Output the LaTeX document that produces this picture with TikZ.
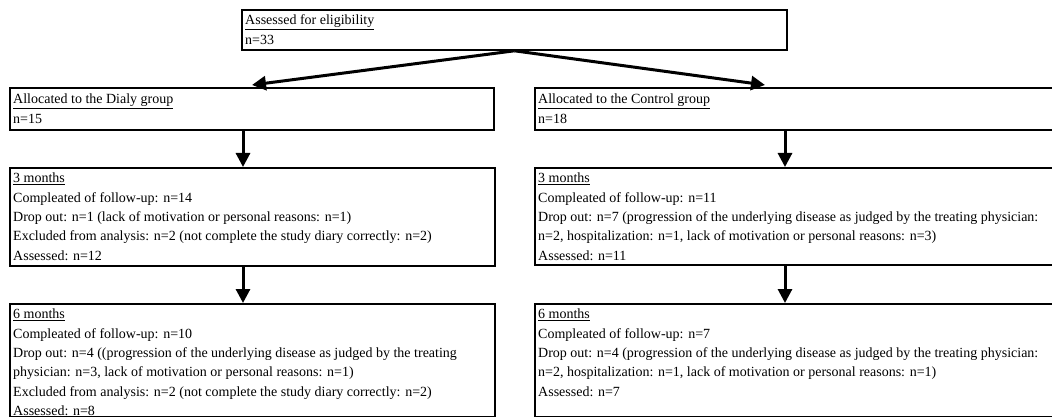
\documentclass[tikz,border=0pt]{standalone}
\usepackage{fontspec}
\setmainfont{Liberation Serif}
\usetikzlibrary{arrows.meta}
\begin{document}
\begin{tikzpicture}[x=1pt,y=-1pt,
  box/.style={draw, line width=1.8pt, rectangle, inner sep=0pt, anchor=north west},
  txt/.style={anchor=north west, inner sep=0pt, align=left, font=\fontsize{14}{19.4}\selectfont},
  arr/.style={line width=3pt, -{Triangle[length=14pt,width=14pt]}}]
\useasboundingbox (0,0) rectangle (1052,417);
\clip (0,0) rectangle (1052,417);
% boxes
\node[box, minimum width=545pt, minimum height=40pt] (top) at (241,9) {};
\node[box, minimum width=484pt, minimum height=42pt] (allocL) at (9,87) {};
\node[box, minimum width=540pt, minimum height=42pt] (allocR) at (534,87) {};
\node[box, minimum width=485pt, minimum height=98pt] (m3L) at (9,167) {};
\node[box, minimum width=540pt, minimum height=97pt] (m3R) at (534,167) {};
\node[box, minimum width=485pt, minimum height=113pt] (m6L) at (9,303) {};
\node[box, minimum width=540pt, minimum height=113pt] (m6R) at (534,303) {};
% texts
\node[txt] (topT) at ([shift={(4,2)}]top.north west) {\strut\underline{Assessed for eligibility}\\n=33};
\node[txt] (allocLT) at ([shift={(4,3)}]allocL.north west) {\strut\underline{Allocated to the Dialy group}\\n=15};
\node[txt] (allocRT) at ([shift={(4,3)}]allocR.north west) {\strut\underline{Allocated to the Control group}\\n=18};
\node[txt] (m3LT) at ([shift={(4,2)}]m3L.north west) {\strut\underline{3 months}\\
Compleated of follow-up: n=14\\
Drop out: n=1 (lack of motivation or personal reasons: n=1)\\
Excluded from analysis: n=2 (not complete the study diary correctly: n=2)\\
Assessed: n=12};
\node[txt] (m3RT) at ([shift={(4,2)}]m3R.north west) {\strut\underline{3 months}\\
Compleated of follow-up: n=11\\
Drop out: n=7 (progression of the underlying disease as judged by the treating physician:\\
n=2, hospitalization: n=1, lack of motivation or personal reasons: n=3)\\
Assessed: n=11};
\node[txt] (m6LT) at ([shift={(4,2)}]m6L.north west) {\strut\underline{6 months}\\
Compleated of follow-up: n=10\\
Drop out: n=4 ((progression of the underlying disease as judged by the treating\\
physician: n=3, lack of motivation or personal reasons: n=1)\\
Excluded from analysis: n=2 (not complete the study diary correctly: n=2)\\
Assessed: n=8};
\node[txt] (m6RT) at ([shift={(4,2)}]m6R.north west) {\strut\underline{6 months}\\
Compleated of follow-up: n=7\\
Drop out: n=4 (progression of the underlying disease as judged by the treating physician:\\
n=2, hospitalization: n=1, lack of motivation or personal reasons: n=1)\\
Assessed: n=7};
% connectors
\coordinate (colL) at (243,0);
\coordinate (colR) at (785,0);
\coordinate (tipL) at (252,85);
\coordinate (tipR) at (765,85);
\draw[arr] (top.south) -- (tipL);
\draw[arr] (top.south) -- (tipR);
\draw[arr] (allocL.south -| colL) -- (m3L.north -| colL);
\draw[arr] (allocR.south -| colR) -- (m3R.north -| colR);
\draw[arr] (m3L.south -| colL) -- (m6L.north -| colL);
\draw[arr] (m3R.south -| colR) -- (m6R.north -| colR);
\end{tikzpicture}
\end{document}
